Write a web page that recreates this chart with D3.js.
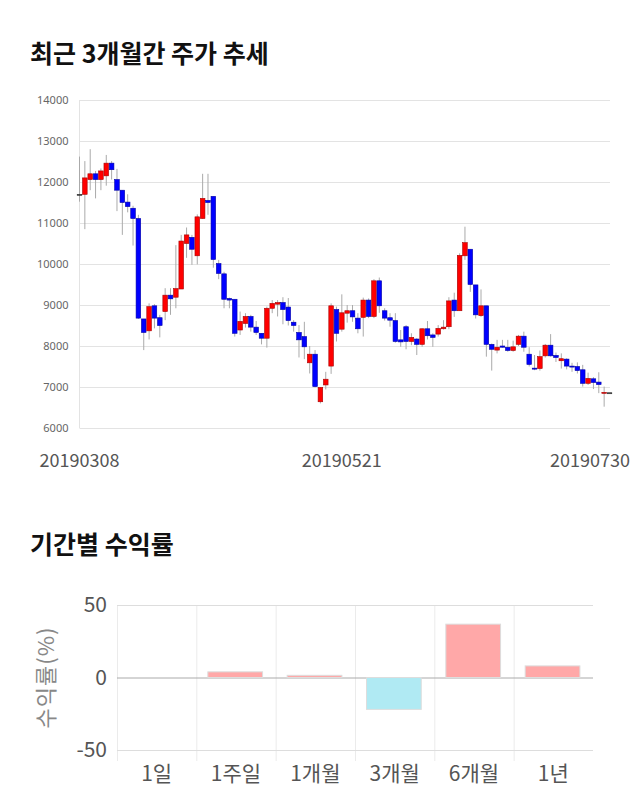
<!DOCTYPE html>
<html>
<head>
<meta charset="utf-8">
<script src="https://cdn.jsdelivr.net/npm/d3@7"></script>
<style>
body { margin: 0; background: #fff; font-family: "Noto Sans CJK KR", "Noto Sans", sans-serif; }
</style>
</head>
<body>
<div class="container"></div>
<script>
// daily candles, 20190308 .. 20190730
var opens = [11700, 11700, 12060, 12200, 12060, 12150, 12460, 12060, 11800, 11510,
    11360, 11110, 8660, 8370, 8980, 8690, 8840, 9240, 9190, 9390,
    10500, 10650, 10200, 11110, 11550, 11650, 10010, 9760, 9160, 9140,
    8390, 8550, 8720, 8460, 8310, 8190, 8920, 9020, 9060, 8950,
    8580, 8330, 8230, 7590, 7800, 6640, 7050, 7510, 8890, 8410,
    8800, 8860, 8680, 8700, 9120, 8720, 9590, 8860, 8690, 8620,
    8150, 8470, 8110, 8170, 8040, 8420, 8270, 8290, 8420, 8470,
    9120, 8860, 10200, 10360, 9490, 8740, 8980, 8040, 7900, 8000,
    7970, 7890, 8040, 8240, 7800, 7460, 7450, 7760, 8020, 7770,
    7640, 7680, 7510, 7500, 7420, 7090, 7200, 7120, 6850, 6860];
var highs = [12620, 12510, 12800, 12270, 12330, 12660, 12510, 12320, 11800, 11700,
    11420, 11200, 8660, 9040, 9020, 8760, 9410, 9410, 10460, 10710,
    10890, 10710, 11210, 12200, 12200, 11650, 10100, 9810, 9180, 9140,
    8840, 8800, 8760, 8610, 8310, 8960, 9120, 9120, 9190, 9170,
    8630, 8510, 8590, 8000, 7900, 7000, 7370, 9040, 8960, 9260,
    9000, 9000, 8800, 9180, 9160, 9630, 9670, 8920, 8800, 8800,
    8390, 8510, 8310, 8190, 8430, 8610, 8310, 8510, 8630, 9190,
    9300, 10260, 10910, 10360, 9490, 9380, 8980, 8060, 8150, 8150,
    8150, 8130, 8270, 8350, 7970, 7780, 7890, 8050, 8290, 7840,
    7820, 7700, 7590, 7600, 7540, 7350, 7240, 7360, 7010, 6860];
var lows = [11520, 10850, 11800, 11600, 11800, 11910, 12060, 11290, 10710, 11260,
    10450, 8660, 7900, 8160, 8430, 8210, 8630, 8760, 8920, 9390,
    10150, 9980, 9990, 11100, 11200, 9910, 9630, 8920, 8920, 8230,
    8270, 8450, 8350, 8270, 8040, 7960, 8800, 8720, 8530, 8500,
    8350, 7720, 7680, 7330, 6990, 6600, 6940, 7320, 8110, 8350,
    8570, 8590, 8310, 8230, 8680, 8680, 8810, 8620, 8470, 8080,
    7980, 7920, 8020, 7780, 7980, 8160, 7980, 8230, 8400, 8410,
    8710, 8860, 10100, 9320, 8670, 8710, 7740, 7400, 7820, 7960,
    7860, 7860, 8000, 7860, 7500, 7410, 7400, 7720, 7740, 7610,
    7450, 7430, 7370, 7330, 7010, 7050, 6950, 6850, 6520, 6860];
var closes = [11700, 12100, 12200, 12060, 12270, 12460, 12300, 11800, 11500, 11400,
    11110, 8680, 8330, 8960, 8680, 8500, 9240, 9150, 9400, 10560,
    10710, 10360, 11150, 11600, 11500, 10110, 9770, 9140, 9120, 8310,
    8600, 8720, 8460, 8330, 8190, 8920, 9040, 9060, 8890, 8620,
    8500, 8150, 7980, 7800, 7010, 6990, 7190, 8980, 8310, 8810,
    8860, 8710, 8420, 9120, 8720, 9590, 8980, 8680, 8630, 8110,
    8100, 8110, 8210, 8040, 8420, 8250, 8210, 8430, 8460, 9100,
    8860, 10210, 10520, 9500, 8760, 8980, 8040, 7920, 7970, 7970,
    7890, 7980, 8240, 7970, 7550, 7450, 7740, 8020, 7760, 7720,
    7690, 7510, 7500, 7400, 7090, 7210, 7110, 7060, 6870, 6860];
var dateTicks = ['20190308', '20190521', '20190730'];
var dateTickIdx = [0, 49, 99];
var priceTicks = [6000, 7000, 8000, 9000, 10000, 11000, 12000, 13000, 14000];

// period returns
var periods = ['1일', '1주일', '1개월', '3개월', '6개월', '1년'];
var returns = [0, 3.9, 1.5, -22, 36.8, 8];
var returnTicks = [-50, 0, 50];

const WIDTH = 640;
const HEIGHT = 810;

var svg = d3.select('.container').append('svg')
    .attr('width', WIDTH)
    .attr('height', HEIGHT);

var title = (text, y) => svg.append('text')
    .attr('x', 30).attr('y', y)
    .attr('font-size', 25).attr('font-weight', 'bold')
    .attr('fill', '#111')
    .text(text);

title('최근 3개월간 주가 추세', 63);
title('기간별 수익률', 554);

// ---- candle chart ----
const C_LEFT = 79.5, C_RIGHT = 610, C_TOP = 100, C_BOTTOM = 428;

var xScale = d3.scalePoint()
    .domain(d3.range(opens.length))
    .range([C_LEFT, 609.5]);

var yScale = d3.scaleLinear()
    .domain([6000, 14000])
    .range([C_BOTTOM, C_TOP]);

var yAxis = svg.append('g')
    .attr('transform', `translate(${C_LEFT},0)`)
    .call(d3.axisLeft(yScale).tickValues(priceTicks).tickSize(-(C_RIGHT - C_LEFT)).tickPadding(11).tickFormat(d3.format('d')));
yAxis.select('.domain').remove();
yAxis.selectAll('line').attr('stroke', '#e3e3e3');
yAxis.selectAll('text').attr('fill', '#666').attr('font-size', 11)
    .attr('font-family', '"Noto Sans", sans-serif');

svg.append('line')
    .attr('x1', C_LEFT).attr('x2', C_LEFT)
    .attr('y1', C_TOP).attr('y2', C_BOTTOM)
    .attr('stroke', '#e3e3e3');

var candles = svg.append('g').selectAll('g')
    .data(d3.range(opens.length))
    .enter().append('g');

candles.append('line')
    .attr('x1', i => xScale(i)).attr('x2', i => xScale(i))
    .attr('y1', i => yScale(highs[i])).attr('y2', i => yScale(lows[i]))
    .attr('stroke', '#aaa');

var bodyColor = i => closes[i] > opens[i] ? '#ff0000' : (closes[i] < opens[i] ? '#0000ff' : '#444');

candles.append('rect')
    .attr('x', i => xScale(i) - 2.3)
    .attr('width', 4.6)
    .attr('y', i => yScale(Math.max(opens[i], closes[i])))
    .attr('height', i => Math.max(1, Math.abs(yScale(opens[i]) - yScale(closes[i]))))
    .attr('fill', bodyColor)
    .attr('stroke', i => d3.color(bodyColor(i)).darker(1.2))
    .attr('stroke-width', 0.6);

svg.append('g').selectAll('text')
    .data(dateTicks)
    .enter().append('text')
    .attr('y', 467)
    .attr('font-size', 18)
    .attr('fill', '#555')
    .attr('text-anchor', 'middle')
    .text(d => d)
    .attr('x', function (d, k) {
        let w = this.getComputedTextLength();
        return Math.min(xScale(dateTickIdx[k]), WIDTH - 10 - w / 2);
    });

// ---- return bar chart ----
const B_LEFT = 117, B_RIGHT = 593, B_TOP = 605, B_BOTTOM = 750;

var bx = d3.scaleBand().domain(periods).range([B_LEFT, B_RIGHT]);
var by = d3.scaleLinear().domain([-50, 50]).range([B_BOTTOM, B_TOP]);

var bg = svg.append('g');

bg.selectAll('.vgrid')
    .data(periods)
    .enter().append('line')
    .attr('x1', d => bx(d) + 0.5).attr('x2', d => bx(d) + 0.5)
    .attr('y1', B_TOP).attr('y2', B_BOTTOM + 11)
    .attr('stroke', '#ebebeb');

bg.selectAll('.hgrid')
    .data(returnTicks)
    .enter().append('line')
    .attr('x1', B_LEFT).attr('x2', B_RIGHT)
    .attr('y1', d => by(d) + 0.5).attr('y2', d => by(d) + 0.5)
    .attr('stroke', d => d === 0 ? '#aaa' : '#ddd');

bg.selectAll('rect')
    .data(periods)
    .enter().append('rect')
    .attr('x', d => bx(d) + bx.bandwidth() * 0.145)
    .attr('width', bx.bandwidth() * 0.69)
    .attr('y', (d, k) => by(Math.max(returns[k], 0)))
    .attr('height', (d, k) => Math.abs(by(returns[k]) - by(0)))
    .attr('fill', (d, k) => returns[k] >= 0 ? '#ffa8a8' : '#b0eaf3')
    .attr('stroke', (d, k) => returns[k] === 0 ? 'none' : '#ddd');

bg.selectAll('.ytick')
    .data(returnTicks)
    .enter().append('text')
    .attr('x', B_LEFT - 10)
    .attr('y', d => by(d))
    .attr('dy', '0.35em')
    .attr('text-anchor', 'end')
    .attr('font-size', 21)
    .attr('fill', '#555')
    .text(d => d);

bg.selectAll('.xlabel')
    .data(periods)
    .enter().append('text')
    .attr('x', d => bx(d) + bx.bandwidth() / 2)
    .attr('y', 781)
    .attr('text-anchor', 'middle')
    .attr('font-size', 21)
    .attr('fill', '#555')
    .text(d => d);

bg.append('text')
    .attr('transform', `translate(54,${by(0)}) rotate(-90)`)
    .attr('text-anchor', 'middle')
    .attr('font-size', 22)
    .attr('letter-spacing', 1)
    .attr('fill', '#888')
    .text('수익률(%)');
</script>
</body>
</html>
